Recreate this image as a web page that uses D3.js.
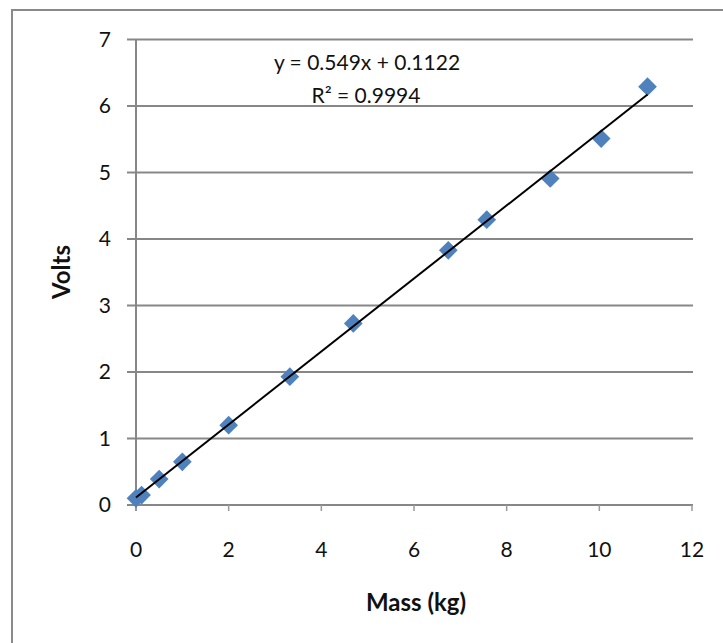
<!DOCTYPE html>
<html>
<head>
<meta charset="utf-8">
<script src="https://cdnjs.cloudflare.com/ajax/libs/d3/7.8.5/d3.min.js"></script>
<style>
  body { margin: 0; background: #fff; }
  text { font-family: Lato, "Open Sans", sans-serif; fill: #111; }
</style>
</head>
<body>
<div id="chart"></div>
<script>
// data
var massKg = [0, 0.12, 0.5, 1, 2, 3.32, 4.69, 6.74, 7.57, 8.94, 10.04, 11.04];
var volts  = [0.1, 0.15, 0.39, 0.65, 1.2, 1.93, 2.73, 3.83, 4.29, 4.91, 5.51, 6.29];
var xTicks = [0, 2, 4, 6, 8, 10, 12];
var yTicks = [0, 1, 2, 3, 4, 5, 6, 7];
var slope = 0.549, intercept = 0.1122;
var eqLabel = 'y = 0.549x + 0.1122';
var r2Label = 'R² = 0.9994';

var W = 723, H = 643;
var margin = { top: 39.5, right: 30, bottom: 138, left: 136 };
var width  = 692 - margin.left;
var height = 505 - margin.top;

var svg = d3.select('#chart').append('svg')
  .attr('width', W)
  .attr('height', H);

// outer chart border
svg.append('rect')
  .attr('x', 12).attr('y', 10)
  .attr('width', 720).attr('height', 640)
  .attr('fill', 'none')
  .attr('stroke', '#8a8a8a')
  .attr('stroke-width', 2);

var g = svg.append('g')
  .attr('transform', 'translate(' + margin.left + ',' + margin.top + ')');

var x = d3.scaleLinear().domain([0, 12]).range([0, width]);
var y = d3.scaleLinear().domain([0, 7]).range([height, 0]);

// horizontal gridlines (with tick stubs to the left)
g.selectAll('line.grid')
  .data(yTicks)
  .enter().append('line')
  .attr('class', 'grid')
  .attr('x1', -9).attr('x2', width + 1)
  .attr('y1', function(d) { return y(d); })
  .attr('y2', function(d) { return y(d); })
  .attr('stroke', '#878787')
  .attr('stroke-width', 2);

// y axis line
g.append('line')
  .attr('x1', 0).attr('x2', 0)
  .attr('y1', 0).attr('y2', height + 6)
  .attr('stroke', '#878787')
  .attr('stroke-width', 2);

// x tick marks
g.selectAll('line.xtick')
  .data(xTicks)
  .enter().append('line')
  .attr('class', 'xtick')
  .attr('x1', function(d) { return x(d); })
  .attr('x2', function(d) { return x(d); })
  .attr('y1', height).attr('y2', height + 6)
  .attr('stroke', '#9a9a9a')
  .attr('stroke-width', 1.5);

// tick labels
g.selectAll('text.ylab')
  .data(yTicks)
  .enter().append('text')
  .attr('class', 'ylab')
  .attr('x', -25)
  .attr('y', function(d) { return y(d); })
  .attr('dy', '0.35em')
  .attr('text-anchor', 'end')
  .style('font-size', '21px')
  .text(function(d) { return d; });

g.selectAll('text.xlab')
  .data(xTicks)
  .enter().append('text')
  .attr('class', 'xlab')
  .attr('x', function(d) { return x(d); })
  .attr('y', height + 52)
  .attr('text-anchor', 'middle')
  .style('font-size', '21px')
  .text(function(d) { return d; });

// points - diamonds
var points = massKg.map(function(m, i) { return { x: m, y: volts[i] }; });
var diamond = d3.symbol().type(d3.symbolSquare).size(175);
g.selectAll('path.pt')
  .data(points)
  .enter().append('path')
  .attr('class', 'pt')
  .attr('d', diamond)
  .attr('transform', function(d) {
    return 'translate(' + x(d.x) + ',' + y(d.y) + ') rotate(45)';
  })
  .attr('fill', '#4f81bd');

// linear trendline
var xMin = d3.min(massKg), xMax = d3.max(massKg);
g.append('line')
  .attr('x1', x(xMin)).attr('y1', y(slope * xMin + intercept))
  .attr('x2', x(xMax)).attr('y2', y(slope * xMax + intercept))
  .attr('stroke', '#000')
  .attr('stroke-width', 2);

// equation labels
g.append('text')
  .attr('x', 367 - margin.left).attr('y', 70 - margin.top)
  .attr('text-anchor', 'middle')
  .style('font-size', '21px')
  .text(eqLabel);
g.append('text')
  .attr('x', 366 - margin.left).attr('y', 103 - margin.top)
  .attr('text-anchor', 'middle')
  .style('font-size', '21px')
  .text(r2Label);

// axis titles
svg.append('text')
  .attr('transform', 'translate(70,272) rotate(-90)')
  .attr('text-anchor', 'middle')
  .style('font-size', '24px')
  .style('font-weight', 'bold')
  .text('Volts');

svg.append('text')
  .attr('x', 416).attr('y', 611)
  .attr('text-anchor', 'middle')
  .style('font-size', '24px')
  .style('font-weight', 'bold')
  .text('Mass (kg)');
</script>
</body>
</html>
